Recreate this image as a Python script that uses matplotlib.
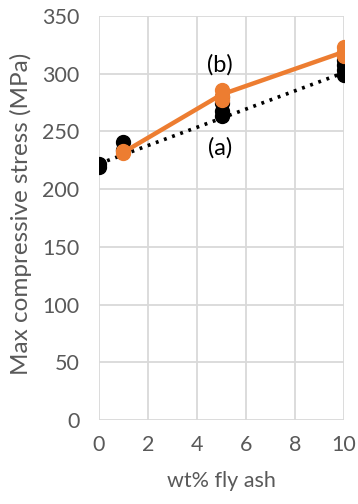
import matplotlib
matplotlib.use("Agg")
import matplotlib.pyplot as plt
import numpy as np

# Data
black_x = [0, 0, 1, 1, 5, 5, 5, 5, 10, 10, 10, 10]
black_y = [219, 222, 234, 241, 263, 268, 275, 280, 299, 303, 308, 312]
orange_x = [1, 1, 5, 5, 5, 10, 10, 10]
orange_y = [231, 233, 277, 281, 286, 315, 319, 323]
orange_line_x = [1, 5, 10]
orange_line_y = [232, 282, 319]
trend_x = [0, 10]
trend_y = [222, 301]
xticks = [0, 2, 4, 6, 8, 10]
yticks = [0, 50, 100, 150, 200, 250, 300, 350]

plt.rcParams['font.family'] = ['Lato', 'DejaVu Sans']
fig = plt.figure(figsize=(3.58, 5.04), dpi=100)
ax = fig.add_axes([0.2765, 0.1667, 0.6845, 0.8015])

gray = '#595959'
grid = '#d9d9d9'
orange = '#ED7D31'

ax.plot(trend_x, trend_y, color='black', linestyle=(0, (0.8, 1.6)), linewidth=2.6, zorder=3)
ax.plot(black_x, black_y, 'o', color='black', markersize=10, zorder=4)
ax.plot(orange_line_x, orange_line_y, '-', color=orange, linewidth=3.2, zorder=5)
ax.plot(orange_x, orange_y, 'o', color=orange, markersize=10, zorder=6)

ax.text(4.95, 308, '(b)', fontsize=17, ha='center', va='center', color='black', zorder=7)
ax.text(4.95, 236, '(a)', fontsize=17, ha='center', va='center', color='black', zorder=7)

ax.set_xlim(0, 10)
ax.set_ylim(0, 350)
ax.set_xticks(xticks)
ax.set_yticks(yticks)
ax.grid(True, color=grid, linewidth=1.3)
ax.set_axisbelow(True)
for s in ax.spines.values():
    s.set_visible(False)
ax.tick_params(axis='y', length=0, labelsize=15.5, labelcolor=gray, pad=14)
ax.tick_params(axis='x', length=0, labelsize=15.5, labelcolor=gray, pad=11)
ax.set_xlabel('wt% fly ash', fontsize=15.5, color=gray, labelpad=11)
ax.set_ylabel('Max compressive stress (MPa)', fontsize=17.5, color=gray)
ax.yaxis.set_label_coords(-0.275, 0.51)

fig.savefig('out.png', dpi=100)
